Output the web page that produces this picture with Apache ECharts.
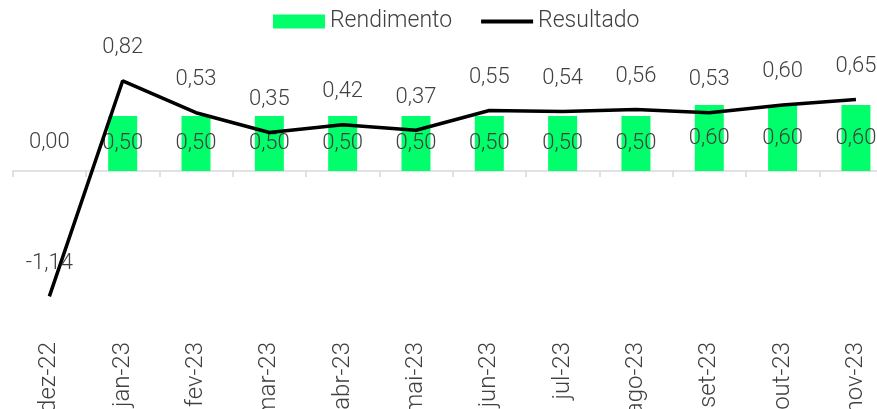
<!DOCTYPE html>
<html>
<head>
<meta charset="utf-8">
<script src="https://cdn.jsdelivr.net/npm/echarts@6/dist/echarts.min.js"></script>
<style>html,body{margin:0;padding:0;background:#fff;}#c{width:877px;height:409px;}</style>
</head>
<body>
<div id="c"></div>
<script>
const categories = ['dez-22','jan-23','fev-23','mar-23','abr-23','mai-23','jun-23','jul-23','ago-23','set-23','out-23','nov-23'];
const rendimento = [0.00,0.50,0.50,0.50,0.50,0.50,0.50,0.50,0.50,0.60,0.60,0.60];
const resultado = [-1.14,0.82,0.53,0.35,0.42,0.37,0.55,0.54,0.56,0.53,0.60,0.65];

const FONT = 'Roboto';
const TXT = '#404040';
const fmt = v => Number(v).toFixed(2).replace('.', ',');

const barData = rendimento.map(v => v === 0
  ? { value: v, label: { offset: [0, -29] } }
  : v);

const chart = echarts.init(document.getElementById('c'), null, { renderer: 'canvas' });
chart.setOption({
  animation: false,
  textStyle: { fontFamily: FONT },
  legend: {
    left: 273, top: 10, padding: 0,
    itemWidth: 52, itemHeight: 14, itemGap: 29,
    textStyle: { fontFamily: FONT, fontWeight: 300, fontSize: 23, color: TXT },
    data: [
      { name: 'Rendimento', icon: 'rect' },
      { name: 'Resultado', icon: 'path://M0,0h55v4h-55z', itemStyle: { color: '#000' } }
    ]
  },
  grid: { left: 12.7, right: -15.6, top: 39, bottom: 84, containLabel: false, outerBoundsMode: 'none' },
  xAxis: [
    {
      type: 'category', data: categories, position: 'bottom',
      axisLine: { onZero: true, lineStyle: { color: '#d9d9d9', width: 1.5 } },
      axisTick: { show: true, length: 6, lineStyle: { color: '#d9d9d9', width: 1.5 } },
      axisLabel: { show: false }
    },
    {
      type: 'category', data: categories, position: 'bottom',
      axisLine: { show: false, onZero: false },
      axisTick: { show: false },
      axisLabel: { show: true, interval: 0, rotate: 90, margin: 17, fontFamily: FONT, fontWeight: 300, fontSize: 24, color: TXT }
    }
  ],
  yAxis: {
    type: 'value', min: -1.4, max: 1.2,
    show: false, splitLine: { show: false }
  },
  series: [
    {
      name: 'Rendimento', type: 'bar', data: barData, barWidth: 29,
      itemStyle: { color: '#00FF6A' },
      label: { show: true, position: 'inside', offset: [0, 0], formatter: p => fmt(p.value),
        fontFamily: FONT, fontWeight: 300, fontSize: 22, color: TXT }
    },
    {
      name: 'Resultado', type: 'line', data: resultado,
      symbol: 'circle', symbolSize: 0.01, showSymbol: true,
      lineStyle: { color: '#000', width: 3.5 },
      itemStyle: { color: '#000' },
      label: { show: true, position: 'top', distance: 22, formatter: p => fmt(p.value),
        fontFamily: FONT, fontWeight: 300, fontSize: 22, color: TXT },
      z: 3
    }
  ]
});
</script>
</body>
</html>
